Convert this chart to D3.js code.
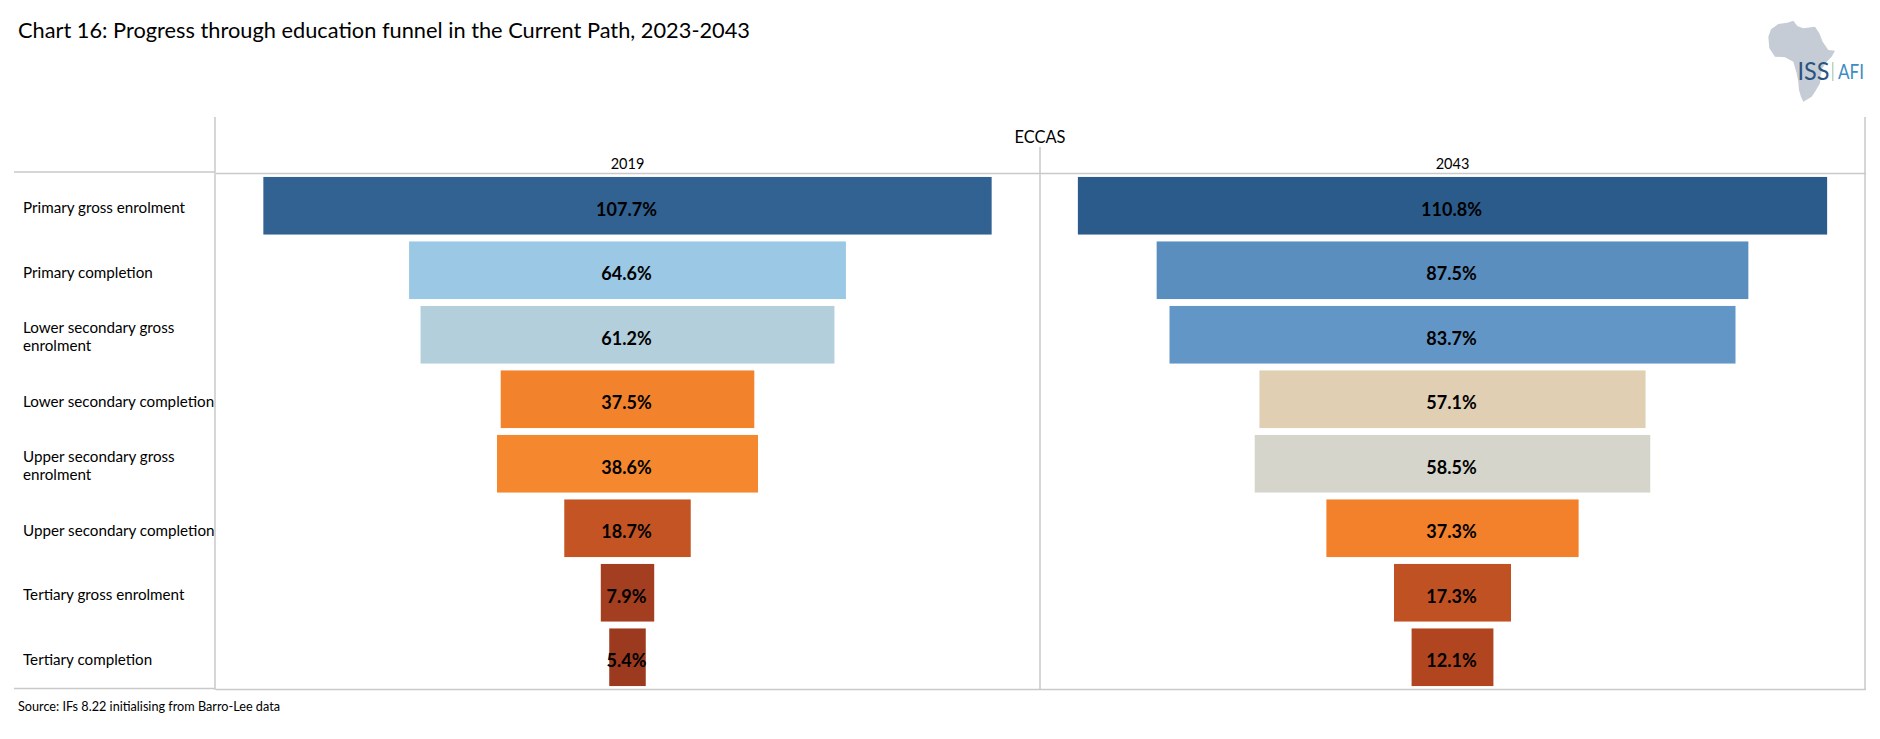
<!DOCTYPE html>
<html>
<head>
<meta charset="utf-8">
<script src="https://cdnjs.cloudflare.com/ajax/libs/d3/7.8.5/d3.min.js"></script>
<style>
html,body{margin:0;padding:0;background:#fff}
svg{display:block}
text{font-family:Lato,"Open Sans",sans-serif;fill:#000}
</style>
</head>
<body>
<svg id="c" width="1880" height="739"></svg>
<script>
const title = "Chart 16: Progress through education funnel in the Current Path, 2023-2043";
const source = "Source: IFs 8.22 initialising from Barro-Lee data";
const groupLabel = "ECCAS";
const categories = [
  ["Primary gross enrolment"],
  ["Primary completion"],
  ["Lower secondary gross","enrolment"],
  ["Lower secondary completion"],
  ["Upper secondary gross","enrolment"],
  ["Upper secondary completion"],
  ["Tertiary gross enrolment"],
  ["Tertiary completion"]
];
const years = ["2019","2043"];
const values2019 = [107.7,64.6,61.2,37.5,38.6,18.7,7.9,5.4];
const values2043 = [110.8,87.5,83.7,57.1,58.5,37.3,17.3,12.1];
const colourStops = [5.4,12.1,18.7,37.3,38.6,57.1,58.5,61.2,64.6,83.7,110.8];
const colourRange = ["#9c3a20","#b04520","#c45423","#f3812c","#f5882f","#e0cfb3","#d5d5cb","#b3cfdb","#9ac8e5","#6296c6","#2b5b8b"];
const africa = [[205,110],[213,88],[235,72],[262,68],[280,62],[292,78],[310,85],[345,80],[358,100],[368,125],[385,150],[405,152],[395,170],[380,185],[367,205],[362,225],[360,250],[345,275],[335,290],[310,305],[303,290],[297,270],[295,245],[290,220],[280,185],[255,172],[225,170],[208,145]];

const svg = d3.select("#c");
const grid = "#c9c9c9";

const y = d3.scaleBand().domain(d3.range(categories.length)).range([173.5,689.5]).paddingInner(0.107).paddingOuter(0.0535);
const panelX = d3.scaleBand().domain(years).range([215,1865]);
const x = d3.scaleLinear().domain([-61,61]).range([0,panelX.bandwidth()]);
const colour = d3.scaleLinear().domain(colourStops).range(colourRange);

// logo
const logo = svg.append("g").attr("transform","translate(1700,0) scale(0.3333)");
logo.append("path").attr("d",d3.line().curve(d3.curveLinearClosed)(africa)).attr("fill","#c6ccd5");
svg.append("text").attr("x",1797.5).attr("y",80).attr("textLength",32).attr("lengthAdjust","spacingAndGlyphs")
  .attr("font-size",25).style("fill","#2a5480").text("ISS");
svg.append("rect").attr("x",1832).attr("y",62).attr("width",1.5).attr("height",19).attr("fill","#bcd3c4");
svg.append("text").attr("x",1838).attr("y",79).attr("textLength",26).attr("lengthAdjust","spacingAndGlyphs")
  .attr("font-size",21).style("fill","#3f8cc4").text("AFI");

// title and source
svg.append("text").attr("x",18).attr("y",38).attr("font-size",21.5).attr("textLength",732).attr("lengthAdjust","spacingAndGlyphs").text(title);
svg.append("text").attr("x",18).attr("y",711).attr("font-size",12.5).attr("textLength",262).attr("lengthAdjust","spacingAndGlyphs").text(source);

// frame
const lines = [
  [215,117,215,690],[1040,147,1040,690],[1865,117,1865,690],
  [14,172,215,172],[216,173.5,1866,173.5],
  [14,688.5,215,688.5],[216,689.5,1866,689.5]
];
svg.append("g").selectAll("line").data(lines).join("line")
  .attr("x1",d=>d[0]).attr("y1",d=>d[1]).attr("x2",d=>d[2]).attr("y2",d=>d[3])
  .attr("stroke",grid).attr("stroke-width",1.5);

// headers
svg.append("text").attr("x",1040).attr("y",143).attr("text-anchor","middle").attr("font-size",18).attr("textLength",51).attr("lengthAdjust","spacingAndGlyphs").text(groupLabel);
svg.append("g").selectAll("text").data(years).join("text")
  .attr("x",d=>panelX(d)+panelX.bandwidth()/2).attr("y",169).attr("text-anchor","middle").attr("font-size",14.5).text(d=>d);

// category labels
const cat = svg.append("g").selectAll("text").data(categories).join("text")
  .attr("font-size",15.2);
cat.each(function(d,i){
  const t = d3.select(this), cy = y(i)+y.bandwidth()/2;
  d.forEach((s,j)=>{
    const two = d.length>1;
    t.append("tspan").attr("x",23).attr("y",cy+(two?(j?16.5:-1.5):7.5)).text(s);
  });
});

// panels
[values2019,values2043].forEach((vals,k)=>{
  const g = svg.append("g").attr("transform",`translate(${panelX(years[k])},0)`);
  g.selectAll("rect").data(vals).join("rect")
    .attr("x",d=>x(-d/2)).attr("width",d=>x(d/2)-x(-d/2))
    .attr("y",(d,i)=>y(i)).attr("height",y.bandwidth())
    .attr("fill",d=>colour(d));
  g.selectAll("text").data(vals).join("text")
    .attr("x",x(0)-1).attr("y",(d,i)=>y(i)+y.bandwidth()/2+10)
    .attr("text-anchor","middle").attr("font-size",18).attr("font-weight",700)
    .text(d=>d.toFixed(1)+"%");
});
</script>
</body>
</html>
